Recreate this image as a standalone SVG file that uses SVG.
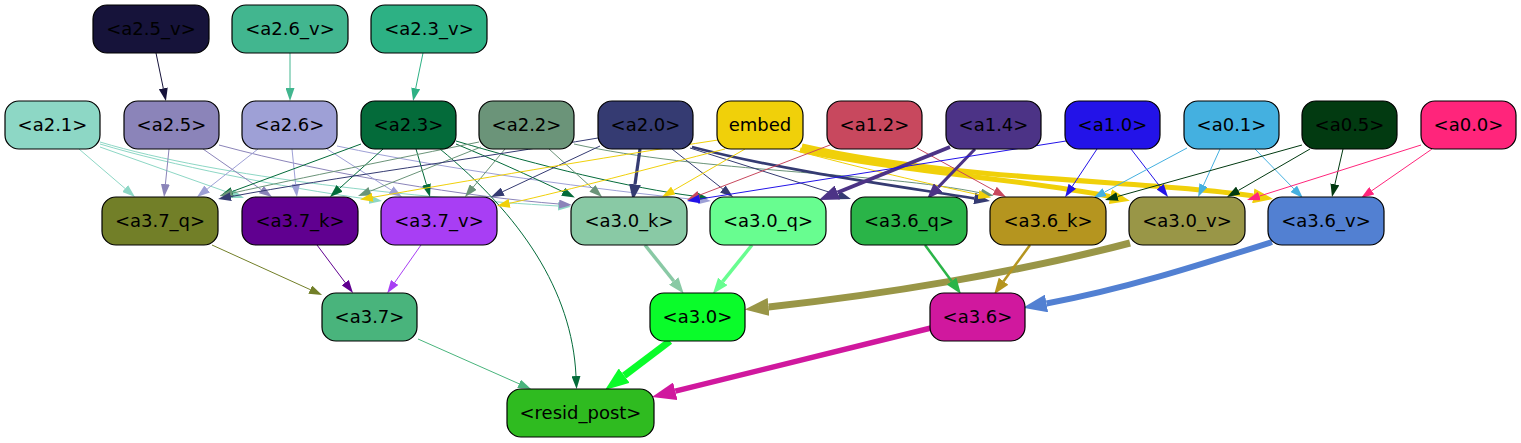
<svg xmlns="http://www.w3.org/2000/svg" width="1521" height="443" viewBox="0 0 1521 443">
<style>
.n rect{stroke:#000;stroke-width:1.2}
.n text{font-family:"DejaVu Sans","Liberation Sans",sans-serif;font-size:18px;text-anchor:middle;fill:#000}
.e path{fill:none}
</style>
<defs>
<marker id="t16133a" viewBox="0 0 10 10" refX="0" refY="5" markerWidth="13" markerHeight="9" markerUnits="userSpaceOnUse" orient="auto" preserveAspectRatio="none"><path d="M0,0L10,5L0,10z" fill="#16133a"/></marker>
<marker id="t42b68f" viewBox="0 0 10 10" refX="0" refY="5" markerWidth="13" markerHeight="9" markerUnits="userSpaceOnUse" orient="auto" preserveAspectRatio="none"><path d="M0,0L10,5L0,10z" fill="#42b68f"/></marker>
<marker id="t2db184" viewBox="0 0 10 10" refX="0" refY="5" markerWidth="13" markerHeight="9" markerUnits="userSpaceOnUse" orient="auto" preserveAspectRatio="none"><path d="M0,0L10,5L0,10z" fill="#2db184"/></marker>
<marker id="t8dd7c5" viewBox="0 0 10 10" refX="0" refY="5" markerWidth="13" markerHeight="9" markerUnits="userSpaceOnUse" orient="auto" preserveAspectRatio="none"><path d="M0,0L10,5L0,10z" fill="#8dd7c5"/></marker>
<marker id="t8b84b9" viewBox="0 0 10 10" refX="0" refY="5" markerWidth="13" markerHeight="9" markerUnits="userSpaceOnUse" orient="auto" preserveAspectRatio="none"><path d="M0,0L10,5L0,10z" fill="#8b84b9"/></marker>
<marker id="t9ea0d6" viewBox="0 0 10 10" refX="0" refY="5" markerWidth="13" markerHeight="9" markerUnits="userSpaceOnUse" orient="auto" preserveAspectRatio="none"><path d="M0,0L10,5L0,10z" fill="#9ea0d6"/></marker>
<marker id="t046b3a" viewBox="0 0 10 10" refX="0" refY="5" markerWidth="13" markerHeight="9" markerUnits="userSpaceOnUse" orient="auto" preserveAspectRatio="none"><path d="M0,0L10,5L0,10z" fill="#046b3a"/></marker>
<marker id="t6b9479" viewBox="0 0 10 10" refX="0" refY="5" markerWidth="13" markerHeight="9" markerUnits="userSpaceOnUse" orient="auto" preserveAspectRatio="none"><path d="M0,0L10,5L0,10z" fill="#6b9479"/></marker>
<marker id="t353b72" viewBox="0 0 10 10" refX="0" refY="5" markerWidth="13" markerHeight="9" markerUnits="userSpaceOnUse" orient="auto" preserveAspectRatio="none"><path d="M0,0L10,5L0,10z" fill="#353b72"/></marker>
<marker id="m353b72" viewBox="0 0 10 10" refX="0" refY="5" markerWidth="16" markerHeight="12" markerUnits="userSpaceOnUse" orient="auto" preserveAspectRatio="none"><path d="M0,0L10,5L0,10z" fill="#353b72"/></marker>
<marker id="tf0d00a" viewBox="0 0 10 10" refX="0" refY="5" markerWidth="13" markerHeight="9" markerUnits="userSpaceOnUse" orient="auto" preserveAspectRatio="none"><path d="M0,0L10,5L0,10z" fill="#f0d00a"/></marker>
<marker id="lf0d00a" viewBox="0 0 10 10" refX="0" refY="5" markerWidth="20" markerHeight="15" markerUnits="userSpaceOnUse" orient="auto" preserveAspectRatio="none"><path d="M0,0L10,5L0,10z" fill="#f0d00a"/></marker>
<marker id="tc8485e" viewBox="0 0 10 10" refX="0" refY="5" markerWidth="13" markerHeight="9" markerUnits="userSpaceOnUse" orient="auto" preserveAspectRatio="none"><path d="M0,0L10,5L0,10z" fill="#c8485e"/></marker>
<marker id="l4c3386" viewBox="0 0 10 10" refX="0" refY="5" markerWidth="20" markerHeight="15" markerUnits="userSpaceOnUse" orient="auto" preserveAspectRatio="none"><path d="M0,0L10,5L0,10z" fill="#4c3386"/></marker>
<marker id="m4c3386" viewBox="0 0 10 10" refX="0" refY="5" markerWidth="16" markerHeight="12" markerUnits="userSpaceOnUse" orient="auto" preserveAspectRatio="none"><path d="M0,0L10,5L0,10z" fill="#4c3386"/></marker>
<marker id="t2313e8" viewBox="0 0 10 10" refX="0" refY="5" markerWidth="13" markerHeight="9" markerUnits="userSpaceOnUse" orient="auto" preserveAspectRatio="none"><path d="M0,0L10,5L0,10z" fill="#2313e8"/></marker>
<marker id="t44b0e0" viewBox="0 0 10 10" refX="0" refY="5" markerWidth="13" markerHeight="9" markerUnits="userSpaceOnUse" orient="auto" preserveAspectRatio="none"><path d="M0,0L10,5L0,10z" fill="#44b0e0"/></marker>
<marker id="t023a11" viewBox="0 0 10 10" refX="0" refY="5" markerWidth="13" markerHeight="9" markerUnits="userSpaceOnUse" orient="auto" preserveAspectRatio="none"><path d="M0,0L10,5L0,10z" fill="#023a11"/></marker>
<marker id="tff257b" viewBox="0 0 10 10" refX="0" refY="5" markerWidth="13" markerHeight="9" markerUnits="userSpaceOnUse" orient="auto" preserveAspectRatio="none"><path d="M0,0L10,5L0,10z" fill="#ff257b"/></marker>
<marker id="t727f28" viewBox="0 0 10 10" refX="0" refY="5" markerWidth="13" markerHeight="9" markerUnits="userSpaceOnUse" orient="auto" preserveAspectRatio="none"><path d="M0,0L10,5L0,10z" fill="#727f28"/></marker>
<marker id="t600090" viewBox="0 0 10 10" refX="0" refY="5" markerWidth="13" markerHeight="9" markerUnits="userSpaceOnUse" orient="auto" preserveAspectRatio="none"><path d="M0,0L10,5L0,10z" fill="#600090"/></marker>
<marker id="ta83ef4" viewBox="0 0 10 10" refX="0" refY="5" markerWidth="13" markerHeight="9" markerUnits="userSpaceOnUse" orient="auto" preserveAspectRatio="none"><path d="M0,0L10,5L0,10z" fill="#a83ef4"/></marker>
<marker id="m89c9a5" viewBox="0 0 10 10" refX="0" refY="5" markerWidth="16" markerHeight="12" markerUnits="userSpaceOnUse" orient="auto" preserveAspectRatio="none"><path d="M0,0L10,5L0,10z" fill="#89c9a5"/></marker>
<marker id="m68fd90" viewBox="0 0 10 10" refX="0" refY="5" markerWidth="16" markerHeight="12" markerUnits="userSpaceOnUse" orient="auto" preserveAspectRatio="none"><path d="M0,0L10,5L0,10z" fill="#68fd90"/></marker>
<marker id="x999647" viewBox="0 0 10 10" refX="0" refY="5" markerWidth="24" markerHeight="18" markerUnits="userSpaceOnUse" orient="auto" preserveAspectRatio="none"><path d="M0,0L10,5L0,10z" fill="#999647"/></marker>
<marker id="m2ab448" viewBox="0 0 10 10" refX="0" refY="5" markerWidth="16" markerHeight="12" markerUnits="userSpaceOnUse" orient="auto" preserveAspectRatio="none"><path d="M0,0L10,5L0,10z" fill="#2ab448"/></marker>
<marker id="mb5951f" viewBox="0 0 10 10" refX="0" refY="5" markerWidth="16" markerHeight="12" markerUnits="userSpaceOnUse" orient="auto" preserveAspectRatio="none"><path d="M0,0L10,5L0,10z" fill="#b5951f"/></marker>
<marker id="x5280d2" viewBox="0 0 10 10" refX="0" refY="5" markerWidth="24" markerHeight="18" markerUnits="userSpaceOnUse" orient="auto" preserveAspectRatio="none"><path d="M0,0L10,5L0,10z" fill="#5280d2"/></marker>
<marker id="t49b47c" viewBox="0 0 10 10" refX="0" refY="5" markerWidth="13" markerHeight="9" markerUnits="userSpaceOnUse" orient="auto" preserveAspectRatio="none"><path d="M0,0L10,5L0,10z" fill="#49b47c"/></marker>
<marker id="x0afc2a" viewBox="0 0 10 10" refX="0" refY="5" markerWidth="24" markerHeight="18" markerUnits="userSpaceOnUse" orient="auto" preserveAspectRatio="none"><path d="M0,0L10,5L0,10z" fill="#0afc2a"/></marker>
<marker id="xd0189e" viewBox="0 0 10 10" refX="0" refY="5" markerWidth="24" markerHeight="18" markerUnits="userSpaceOnUse" orient="auto" preserveAspectRatio="none"><path d="M0,0L10,5L0,10z" fill="#d0189e"/></marker>
</defs>
<rect width="1521" height="443" fill="#fff"/>
<g id="connectors" class="e" stroke-width="1">
<path d="M156,53 L163.3,88.3" stroke="#16133a" marker-end="url(#t16133a)"/>
<path d="M290,53 L290,88" stroke="#42b68f" marker-end="url(#t42b68f)"/>
<path d="M423,53 L415.7,88.3" stroke="#2db184" marker-end="url(#t2db184)"/>
<path d="M79,149 L125.1,188.5" stroke="#8dd7c5" marker-end="url(#t8dd7c5)"/>
<path d="M100,147 L231.8,193.7" stroke="#8dd7c5" marker-end="url(#t8dd7c5)"/>
<path d="M100,144 C170,165 280,187 369.2,199.3" stroke="#8dd7c5" marker-end="url(#t8dd7c5)"/>
<path d="M100,142 C220,178 420,198 558,206" stroke="#8dd7c5" marker-end="url(#t8dd7c5)"/>
<path d="M169,149 L165.4,184.1" stroke="#8b84b9" marker-end="url(#t8b84b9)"/>
<path d="M203,149 L261.3,189.6" stroke="#8b84b9" marker-end="url(#t8b84b9)"/>
<path d="M219,145 C330,175 470,197 559,204" stroke="#8b84b9" marker-end="url(#t8b84b9)"/>
<path d="M258,149 L207.2,189" stroke="#9ea0d6" marker-end="url(#t9ea0d6)"/>
<path d="M292,149 L295.6,184.1" stroke="#9ea0d6" marker-end="url(#t9ea0d6)"/>
<path d="M327,149 L391.1,190" stroke="#9ea0d6" marker-end="url(#t9ea0d6)"/>
<path d="M337,146 C450,170 600,190 698,199.8" stroke="#9ea0d6" marker-end="url(#t9ea0d6)"/>
<path d="M361,144 L232.2,191.5" stroke="#046b3a" marker-end="url(#t046b3a)"/>
<path d="M383,149 L339.6,188.3" stroke="#046b3a" marker-end="url(#t046b3a)"/>
<path d="M416,149 L426.4,184.5" stroke="#046b3a" marker-end="url(#t046b3a)"/>
<path d="M456,144 C490,158 530,176 563.1,191.8" stroke="#046b3a" marker-end="url(#t046b3a)"/>
<path d="M456,141 C540,166 630,188 695.5,196.3" stroke="#046b3a" marker-end="url(#t046b3a)"/>
<path d="M440,149 C520,215 572,290 576,376" stroke="#046b3a" marker-end="url(#t046b3a)"/>
<path d="M479,142 C400,158 300,178 232.4,193.1" stroke="#6b9479" marker-end="url(#t6b9479)"/>
<path d="M481,147 L370.1,191.2" stroke="#6b9479" marker-end="url(#t6b9479)"/>
<path d="M505,149 L473.3,187" stroke="#6b9479" marker-end="url(#t6b9479)"/>
<path d="M549,149 L592.4,188.3" stroke="#6b9479" marker-end="url(#t6b9479)"/>
<path d="M574,144 C700,172 880,172 981,193" stroke="#6b9479" marker-end="url(#t6b9479)"/>
<path d="M598,138 C480,158 330,178 230.9,196.6" stroke="#353b72" marker-end="url(#t353b72)"/>
<path d="M600,146 L502.8,191.6" stroke="#353b72" marker-end="url(#t353b72)"/>
<path d="M640,149 L635,184.3" stroke="#353b72" stroke-width="3.2" marker-end="url(#m353b72)"/>
<path d="M672,149 L722.8,189" stroke="#353b72" marker-end="url(#t353b72)"/>
<path d="M690,148 L838.6,195.1" stroke="#353b72" marker-end="url(#t353b72)"/>
<path d="M692,147 C780,170 890,185 974.2,198.4" stroke="#353b72" stroke-width="2.7" marker-end="url(#m353b72)"/>
<path d="M718,140 C600,158 460,182 372.8,197.3" stroke="#f0d00a" marker-end="url(#tf0d00a)"/>
<path d="M725,149 C650,168 570,190 509.6,203.3" stroke="#f0d00a" marker-end="url(#tf0d00a)"/>
<path d="M745,149 L673.3,190.5" stroke="#f0d00a" marker-end="url(#tf0d00a)"/>
<path d="M790,149 C860,168 930,184 978.4,194.7" stroke="#f0d00a" marker-end="url(#tf0d00a)"/>
<path d="M800,150 C900,172 1030,180 1110.3,196.6" stroke="#f0d00a" stroke-width="5" marker-end="url(#lf0d00a)"/>
<path d="M802,146 C960,182 1150,180 1253.3,195.9" stroke="#f0d00a" stroke-width="5" marker-end="url(#lf0d00a)"/>
<path d="M830,145 L699.1,195.3" stroke="#c8485e" marker-end="url(#tc8485e)"/>
<path d="M917,148 L994.6,190.7" stroke="#c8485e" marker-end="url(#tc8485e)"/>
<path d="M950,147 L837.5,192.5" stroke="#4c3386" stroke-width="4" marker-end="url(#l4c3386)"/>
<path d="M975,149 L938.1,187.4" stroke="#4c3386" stroke-width="3" marker-end="url(#m4c3386)"/>
<path d="M1066,141 L699.8,199" stroke="#2313e8" marker-end="url(#t2313e8)"/>
<path d="M1097,149 L1072.3,186.3" stroke="#2313e8" marker-end="url(#t2313e8)"/>
<path d="M1131,149 L1160.1,186.7" stroke="#2313e8" marker-end="url(#t2313e8)"/>
<path d="M1187,148 L1104.6,192.1" stroke="#44b0e0" marker-end="url(#t44b0e0)"/>
<path d="M1220,149 L1203.5,185.2" stroke="#44b0e0" marker-end="url(#t44b0e0)"/>
<path d="M1255,149 L1293.8,188.8" stroke="#44b0e0" marker-end="url(#t44b0e0)"/>
<path d="M1302,145 L1117.5,196.5" stroke="#023a11" marker-end="url(#t023a11)"/>
<path d="M1310,149 L1238.3,190.5" stroke="#023a11" marker-end="url(#t023a11)"/>
<path d="M1343,149 L1334.9,184.3" stroke="#023a11" marker-end="url(#t023a11)"/>
<path d="M1421,145 L1259.4,196.1" stroke="#ff257b" marker-end="url(#tff257b)"/>
<path d="M1432,149 L1371.8,190.7" stroke="#ff257b" marker-end="url(#tff257b)"/>
<path d="M212,245 L310.2,289.6" stroke="#727f28" marker-end="url(#t727f28)"/>
<path d="M317,245 L345.2,282.6" stroke="#600090" marker-end="url(#t600090)"/>
<path d="M421,245 L394.7,282.5" stroke="#a83ef4" marker-end="url(#ta83ef4)"/>
<path d="M645,245 L673.7,281" stroke="#89c9a5" stroke-width="3.5" marker-end="url(#m89c9a5)"/>
<path d="M752,245 L722.8,281.4" stroke="#68fd90" stroke-width="3.5" marker-end="url(#m68fd90)"/>
<path d="M1130,243 C1020,272 880,295 768.6,306.9" stroke="#999647" stroke-width="7" marker-end="url(#x999647)"/>
<path d="M925,245 L951.5,281.1" stroke="#2ab448" stroke-width="2.5" marker-end="url(#m2ab448)"/>
<path d="M1030,245 L1003.6,281.2" stroke="#b5951f" stroke-width="2.5" marker-end="url(#mb5951f)"/>
<path d="M1272,242 C1190,268 1120,290 1046.5,303.5" stroke="#5280d2" stroke-width="6" marker-end="url(#x5280d2)"/>
<path d="M418,339 L519.1,383.8" stroke="#49b47c" marker-end="url(#t49b47c)"/>
<path d="M670,341 L624.2,375.6" stroke="#0afc2a" stroke-width="7" marker-end="url(#x0afc2a)"/>
<path d="M931,328 L675.3,391.2" stroke="#d0189e" stroke-width="5.5" marker-end="url(#xd0189e)"/>
</g>
<g id="n-a2_5_v" class="n"><rect x="93" y="5" width="116" height="48" rx="14" fill="#16133a"/><text x="151" y="35">&lt;a2.5_v&gt;</text></g>
<g id="n-a2_6_v" class="n"><rect x="232" y="5" width="116" height="48" rx="14" fill="#42b68f"/><text x="290" y="35">&lt;a2.6_v&gt;</text></g>
<g id="n-a2_3_v" class="n"><rect x="371" y="5" width="116" height="48" rx="14" fill="#2db184"/><text x="429" y="35">&lt;a2.3_v&gt;</text></g>
<g id="n-a2_1" class="n"><rect x="5" y="101" width="95" height="48" rx="14" fill="#8dd7c5"/><text x="52.5" y="131">&lt;a2.1&gt;</text></g>
<g id="n-a2_5" class="n"><rect x="124" y="101" width="95" height="48" rx="14" fill="#8b84b9"/><text x="171.5" y="131">&lt;a2.5&gt;</text></g>
<g id="n-a2_6" class="n"><rect x="242" y="101" width="95" height="48" rx="14" fill="#9ea0d6"/><text x="289.5" y="131">&lt;a2.6&gt;</text></g>
<g id="n-a2_3" class="n"><rect x="361" y="101" width="95" height="48" rx="14" fill="#046b3a"/><text x="408.5" y="131">&lt;a2.3&gt;</text></g>
<g id="n-a2_2" class="n"><rect x="479" y="101" width="95" height="48" rx="14" fill="#6b9479"/><text x="526.5" y="131">&lt;a2.2&gt;</text></g>
<g id="n-a2_0" class="n"><rect x="598" y="101" width="95" height="48" rx="14" fill="#353b72"/><text x="645.5" y="131">&lt;a2.0&gt;</text></g>
<g id="n-embed" class="n"><rect x="717" y="101" width="86" height="48" rx="14" fill="#f0d00a"/><text x="760" y="131">embed</text></g>
<g id="n-a1_2" class="n"><rect x="827" y="101" width="95" height="48" rx="14" fill="#c8485e"/><text x="874.5" y="131">&lt;a1.2&gt;</text></g>
<g id="n-a1_4" class="n"><rect x="946" y="101" width="95" height="48" rx="14" fill="#4c3386"/><text x="993.5" y="131">&lt;a1.4&gt;</text></g>
<g id="n-a1_0" class="n"><rect x="1065" y="101" width="95" height="48" rx="14" fill="#2313e8"/><text x="1112.5" y="131">&lt;a1.0&gt;</text></g>
<g id="n-a0_1" class="n"><rect x="1184" y="101" width="95" height="48" rx="14" fill="#44b0e0"/><text x="1231.5" y="131">&lt;a0.1&gt;</text></g>
<g id="n-a0_5" class="n"><rect x="1302" y="101" width="95" height="48" rx="14" fill="#023a11"/><text x="1349.5" y="131">&lt;a0.5&gt;</text></g>
<g id="n-a0_0" class="n"><rect x="1421" y="101" width="95" height="48" rx="14" fill="#ff257b"/><text x="1468.5" y="131">&lt;a0.0&gt;</text></g>
<g id="n-a3_7_q" class="n"><rect x="102" y="197" width="116" height="48" rx="14" fill="#727f28"/><text x="160" y="227">&lt;a3.7_q&gt;</text></g>
<g id="n-a3_7_k" class="n"><rect x="242" y="197" width="116" height="48" rx="14" fill="#600090"/><text x="300" y="227">&lt;a3.7_k&gt;</text></g>
<g id="n-a3_7_v" class="n"><rect x="381" y="197" width="116" height="48" rx="14" fill="#a83ef4"/><text x="439" y="227">&lt;a3.7_v&gt;</text></g>
<g id="n-a3_0_k" class="n"><rect x="571" y="197" width="116" height="48" rx="14" fill="#89c9a5"/><text x="629" y="227">&lt;a3.0_k&gt;</text></g>
<g id="n-a3_0_q" class="n"><rect x="710" y="197" width="116" height="48" rx="14" fill="#68fd90"/><text x="768" y="227">&lt;a3.0_q&gt;</text></g>
<g id="n-a3_6_q" class="n"><rect x="851" y="197" width="116" height="48" rx="14" fill="#2ab448"/><text x="909" y="227">&lt;a3.6_q&gt;</text></g>
<g id="n-a3_6_k" class="n"><rect x="990" y="197" width="116" height="48" rx="14" fill="#b5951f"/><text x="1048" y="227">&lt;a3.6_k&gt;</text></g>
<g id="n-a3_0_v" class="n"><rect x="1129" y="197" width="116" height="48" rx="14" fill="#999647"/><text x="1187" y="227">&lt;a3.0_v&gt;</text></g>
<g id="n-a3_6_v" class="n"><rect x="1268" y="197" width="116" height="48" rx="14" fill="#5280d2"/><text x="1326" y="227">&lt;a3.6_v&gt;</text></g>
<g id="n-a3_7" class="n"><rect x="322" y="293" width="95" height="48" rx="14" fill="#49b47c"/><text x="369.5" y="323">&lt;a3.7&gt;</text></g>
<g id="n-a3_0" class="n"><rect x="650" y="293" width="95" height="48" rx="14" fill="#0afc2a"/><text x="697.5" y="323">&lt;a3.0&gt;</text></g>
<g id="n-a3_6" class="n"><rect x="930" y="293" width="95" height="48" rx="14" fill="#d0189e"/><text x="977.5" y="323">&lt;a3.6&gt;</text></g>
<g id="n-resid_post" class="n"><rect x="507" y="389" width="147" height="48" rx="14" fill="#2fbb20"/><text x="580.5" y="419">&lt;resid_post&gt;</text></g>
</svg>
